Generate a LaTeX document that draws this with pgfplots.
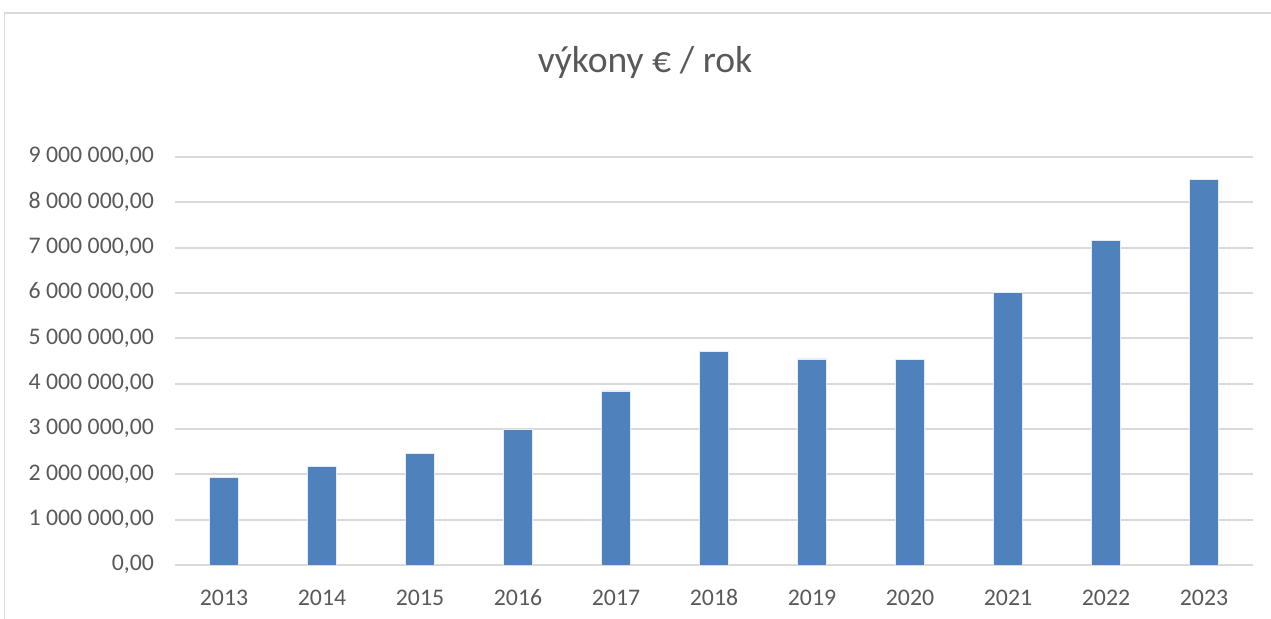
\documentclass[border=0pt]{standalone}
\usepackage{fontspec}
\setmainfont{Carlito}
\usepackage{pgfplots}
\pgfplotsset{compat=1.18}
\definecolor{barblue}{HTML}{4F81BD}
\definecolor{gridgray}{HTML}{D9D9D9}
\definecolor{txtgray}{HTML}{595959}

\pgfplotstableread{
x year value
0  2013 1940000
1  2014 2180000
2  2015 2460000
3  2016 2990000
4  2017 3840000
5  2018 4705000
6  2019 4545000
7  2020 4530000
8  2021 6015000
9  2022 7150000
10 2023 8500000
}\vykony

% 1 px of the reference = 0.5pt
\begin{document}
\begin{tikzpicture}
\useasboundingbox (0pt,0pt) rectangle (635.5pt,309.5pt);
% frame of the chart area (left and top edges visible)
\draw[gridgray, line width=0.8pt] (2.25pt,0pt) -- (2.25pt,303pt) -- (635.5pt,303pt);
\node[txtgray, font=\fontsize{18.8}{20}\selectfont] at (322.5pt,278.5pt) {výkony € / rok};
\begin{axis}[
  at={(87.5pt,27pt)}, anchor=south west,
  scale only axis,
  width=539pt, height=204pt,
  xmin=-0.5, xmax=10.5,
  ymin=0, ymax=9000000,
  ybar, bar width=14.5pt,
  axis line style={draw=none},
  major tick length=0pt,
  ymajorgrids,
  grid style={gridgray, line width=0.9pt},
  xtick=data,
  xticklabels={2013,2014,2015,2016,2017,2018,2019,2020,2021,2022,2023},
  ytick={0,1000000,2000000,3000000,4000000,5000000,6000000,7000000,8000000,9000000},
  yticklabels={{0,00},{1 000 000,00},{2 000 000,00},{3 000 000,00},{4 000 000,00},
    {5 000 000,00},{6 000 000,00},{7 000 000,00},{8 000 000,00},{9 000 000,00}},
  ticklabel style={txtgray, font=\fontsize{11.9}{13}\selectfont,
    text height=1.5ex, text depth=0.3ex},
  xticklabel style={yshift=-9.5pt},
  yticklabel style={xshift=-7pt},
  scaled y ticks=false,
]
\addplot[fill=barblue, draw=white!85!barblue, line width=0.4pt] table[x=x, y=value] {\vykony};
\end{axis}
\end{tikzpicture}
\end{document}
